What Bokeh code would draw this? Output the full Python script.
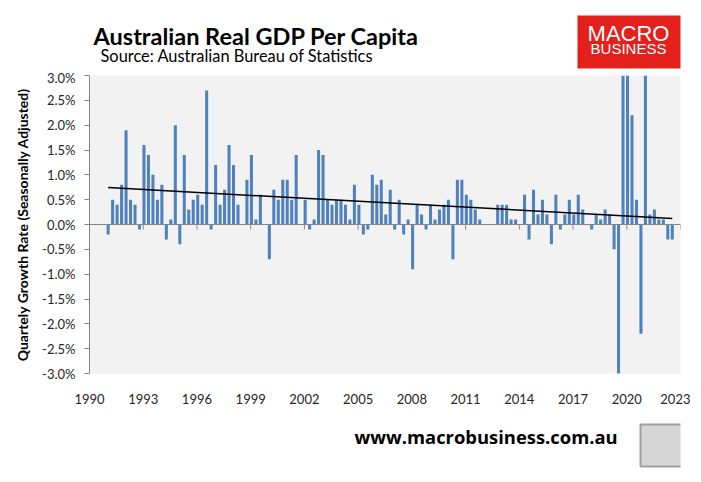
import numpy as np
import pandas as pd
from bokeh.plotting import figure
from bokeh.layouts import column
from bokeh.models import Range1d, FixedTicker, PrintfTickFormatter, Span, ColumnDataSource
from bokeh.core.properties import value
from bokeh.embed import file_html
from bokeh.resources import INLINE

# Quarterly per-capita real GDP growth (%)
growth = [
    -0.2, 0.5, 0.4, 0.8, 1.9, 0.5, 0.4, -0.1, 1.6, 1.4, 1.0, 0.5, 0.8, -0.3, 0.1, 2.0,
    -0.4, 1.4, 0.3, 0.5, 0.6, 0.4, 2.7, -0.1, 1.2, 0.4, 0.7, 1.6, 1.2, 0.4, 0.0, 0.9,
    1.4, 0.1, 0.6, 0.0, -0.7, 0.7, 0.5, 0.9, 0.9, 0.5, 1.4, 0.0, 0.5, -0.1, 0.1, 1.5,
    1.4, 0.5, 0.4, 0.5, 0.5, 0.4, 0.1, 0.8, 0.4, -0.2, -0.1, 1.0, 0.8, 0.9, 0.2, 0.7,
    -0.1, 0.5, -0.2, 0.1, -0.9, 0.4, 0.2, -0.1, 0.4, 0.1, 0.3, 0.4, 0.5, -0.7, 0.9, 0.9,
    0.6, 0.5, 0.3, 0.1, 0.0, 0.0, 0.0, 0.4, 0.4, 0.4, 0.1, 0.1, 0.0, 0.6, -0.3, 0.7,
    0.2, 0.5, 0.2, -0.4, 0.6, -0.1, 0.2, 0.5, 0.2, 0.6, 0.3, 0.0, -0.1, 0.2, 0.1, 0.3,
    0.2, -0.5, -7.3, 3.3, 3.2, 2.2, 0.5, -2.2, 3.4, 0.2, 0.3, 0.1, 0.1, -0.3, -0.3,
]
first_period = "1991-01-01"
x_tick_years = [1990, 1993, 1996, 1999, 2002, 2005, 2008, 2011, 2014, 2017, 2020, 2023]
y_tick_values = [-3.0, -2.5, -2.0, -1.5, -1.0, -0.5, 0.0, 0.5, 1.0, 1.5, 2.0, 2.5, 3.0]
trend_first = 0.745
trend_last = 0.12

title_text = "Australian Real GDP Per Capita"
source_text = "Source: Australian Bureau of Statistics"
footer_text = "www.macrobusiness.com.au"

dates = pd.date_range(first_period, periods=len(growth), freq="3MS")
xpos = np.asarray(dates.year + (dates.month - 0.5) / 12.0, dtype=float)
src = ColumnDataSource(dict(x=xpos, top=growth))

W = 690
LEFT_B = 89
FRAME_W = 591
RIGHT_B = W - LEFT_B - FRAME_W
HEAD_H = 69
MAIN_TOP_BORDER = 6
FRAME_H = 298
MAIN_BOTTOM_BORDER = 45
MAIN_H = MAIN_TOP_BORDER + FRAME_H + MAIN_BOTTOM_BORDER
FOOT_H = 56


def panel(y_top, height):
    """A blank strip (no axes, no title) whose data coordinates equal page pixels.
    Its frame is aligned with the chart frame, as the column layout aligns them."""
    f = figure(frame_width=FRAME_W, frame_height=height, title=None,
               x_range=Range1d(LEFT_B, LEFT_B + FRAME_W),
               y_range=Range1d(y_top + height, y_top),
               x_axis_type=None, y_axis_type=None,
               output_backend="svg", toolbar_location=None,
               min_border=0, min_border_left=LEFT_B, min_border_right=RIGHT_B,
               min_border_top=0, min_border_bottom=0)
    f.grid.visible = False
    f.outline_line_color = None
    f.background_fill_color = "white"
    f.border_fill_color = "white"
    return f


def put_text(f, x, y, txt, font, size, color="black", style="normal", align="left"):
    f.text(x=[x], y=[y], text=[txt], text_font=value(font), text_font_size=value(size),
           text_font_style=style, text_color=color, text_align=align,
           text_baseline="alphabetic")


# ---------------- header ----------------
head = panel(0, HEAD_H)
put_text(head, 93, 35, title_text, "Lato", "23.5px", style="bold")
put_text(head, 100, 55, source_text, "Lato", "16.4px")
head.quad(left=[577], right=[683], top=[15], bottom=[68],
          fill_color="#E3201B", line_color=None)
put_text(head, 628, 33, "MACRO", "Liberation Sans", "22px", color="white", align="center")
put_text(head, 628, 48, "BUSINESS", "Liberation Sans", "15px", color="white", align="center")

# ---------------- main chart ----------------
p = figure(frame_width=FRAME_W, frame_height=FRAME_H, title=None,
           min_border_left=LEFT_B, min_border_right=RIGHT_B,
           min_border_top=MAIN_TOP_BORDER, min_border_bottom=MAIN_BOTTOM_BORDER,
           x_range=Range1d(1990, 2023), y_range=Range1d(-3, 3),
           output_backend="svg", toolbar_location=None,
           background_fill_color="#F2F2F2", border_fill_color="white")
p.outline_line_color = None
p.grid.grid_line_color = None

p.vbar(x="x", top="top", bottom=0, width=0.17, source=src,
       fill_color="#4F81BD", line_color=None)

p.add_layout(Span(location=0, dimension="width", line_color="#868686", line_width=1))
p.segment(x0=x_tick_years[1:], x1=x_tick_years[1:], y0=[0] * 11, y1=[-0.1] * 11,
          line_color="#868686", line_width=1)
p.line(x=[xpos[0], xpos[-1]], y=[trend_first, trend_last], line_color="black", line_width=1.5)

ya = p.yaxis[0]
ya.ticker = FixedTicker(ticks=y_tick_values)
ya.formatter = PrintfTickFormatter(format="%.1f%%")
ya.axis_line_color = "#868686"
ya.major_tick_line_color = "#868686"
ya.major_tick_out = 5
ya.major_tick_in = 0
ya.minor_tick_line_color = None
ya.major_label_standoff = 9
ya.major_label_text_font = "Lato"
ya.major_label_text_font_size = "13px"
ya.major_label_text_color = "#262626"
ya.axis_label = "Quartely Growth Rate (Seasonally Adjusted)"
ya.axis_label_text_font = "Lato"
ya.axis_label_text_font_style = "bold"
ya.axis_label_text_font_size = "14px"
ya.axis_label_text_color = "black"
ya.axis_label_standoff = 8

xa = p.xaxis[0]
xa.ticker = FixedTicker(ticks=x_tick_years)
xa.axis_line_color = None
xa.major_tick_line_color = None
xa.minor_tick_line_color = None
xa.major_label_standoff = 14
xa.major_label_text_font = "Lato"
xa.major_label_text_font_size = "13px"
xa.major_label_text_color = "#262626"

# ---------------- footer ----------------
foot_top = HEAD_H + MAIN_H
foot = panel(foot_top, FOOT_H)
foot.quad(left=[640], right=[684], top=[424], bottom=[466],
          fill_color="#D6D6D6", line_color="#A0A0A0", line_width=2)
put_text(foot, 354, 436, footer_text, "Open Sans", "18.4px", style="bold")

layout = column(head, p, foot, spacing=0)
open("out.html", "w").write(file_html(layout, INLINE))
